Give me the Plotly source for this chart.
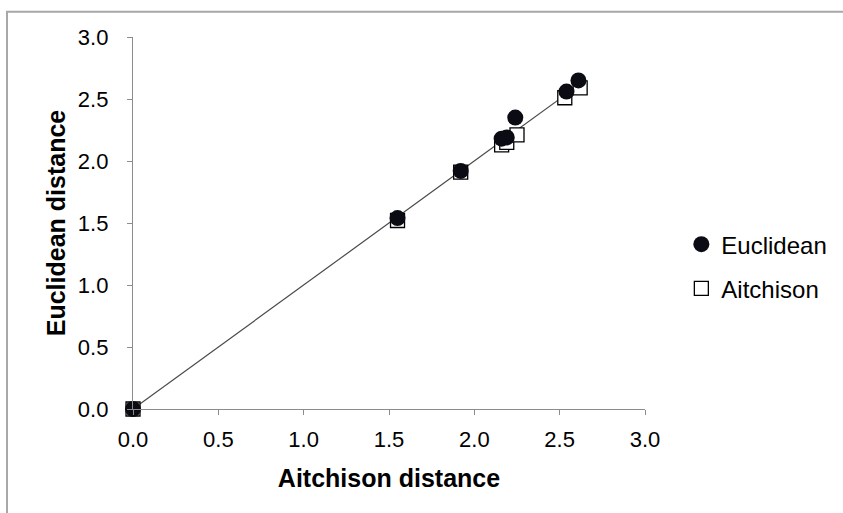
import plotly.graph_objects as go

# Data
euclid_x = [0.0, 1.55, 1.92, 2.16, 2.19, 2.24, 2.54, 2.61]
euclid_y = [0.0, 1.54, 1.92, 2.18, 2.19, 2.35, 2.56, 2.65]
aitch_x = [0.0, 1.55, 1.92, 2.16, 2.19, 2.25, 2.53, 2.62]
aitch_y = [0.0, 1.52, 1.91, 2.13, 2.15, 2.21, 2.51, 2.59]
trend_x = [0.0, max(aitch_x)]
trend_y = [0.0, max(aitch_x)]
tick_vals = [0.0, 0.5, 1.0, 1.5, 2.0, 2.5, 3.0]
tick_text = ["0.0", "0.5", "1.0", "1.5", "2.0", "2.5", "3.0"]

FONT = "Liberation Sans, Arial, sans-serif"

fig = go.Figure()
fig.add_trace(go.Scatter(x=trend_x, y=trend_y, mode="lines",
                         line=dict(color="#4a4a4a", width=1.2),
                         showlegend=False, hoverinfo="skip", cliponaxis=False))
fig.add_trace(go.Scatter(x=aitch_x, y=aitch_y, mode="markers", name="Aitchison",
                         marker=dict(symbol="square", size=14, color="white",
                                     line=dict(color="black", width=1.3)),
                         cliponaxis=False, legend="legend2"))
fig.add_trace(go.Scatter(x=euclid_x, y=euclid_y, mode="markers", name="Euclidean",
                         marker=dict(symbol="circle", size=16, color="#0b0b14",
                                     line=dict(color="#0b0b14", width=0)),
                         cliponaxis=False, legend="legend"))

axis_common = dict(range=[0, 3], tickvals=tick_vals, ticktext=tick_text,
                   showgrid=False, zeroline=False, showline=True,
                   linecolor="#8c8c8c", linewidth=1.3, ticks="outside",
                   ticklen=5, tickcolor="#8c8c8c", tickwidth=1.3,
                   tickfont=dict(family=FONT, size=22, color="black"))

fig.update_layout(
    width=843, height=513,
    margin=dict(l=133, r=198, t=37, b=104, autoexpand=False),
    paper_bgcolor="white", plot_bgcolor="white",
    xaxis=dict(**axis_common, ticklabelstandoff=5,
               title=dict(text="<b>Aitchison distance</b>", standoff=18,
                          font=dict(family=FONT, size=25, color="black"))),
    yaxis=dict(**axis_common, ticklabelstandoff=14,
               title=dict(text="<b>Euclidean distance</b>", standoff=5,
                          font=dict(family=FONT, size=25, color="black"))),
    legend=dict(x=1.071, y=0.442, xanchor="left", yanchor="middle",
                font=dict(family=FONT, size=24, color="black"),
                bgcolor="rgba(0,0,0,0)", itemwidth=30),
    legend2=dict(x=1.071, y=0.323, xanchor="left", yanchor="middle",
                 font=dict(family=FONT, size=24, color="black"),
                 bgcolor="rgba(0,0,0,0)", itemwidth=30),
    shapes=[dict(type="rect", xref="paper", yref="paper",
                 x0=(7 - 133) / 512, x1=2.0, y0=-1.0, y1=(409.3 - 12) / 372,
                 line=dict(color="#a8a8a8", width=2), fillcolor="rgba(0,0,0,0)",
                 layer="below")],
)

fig.write_html("out.html")
